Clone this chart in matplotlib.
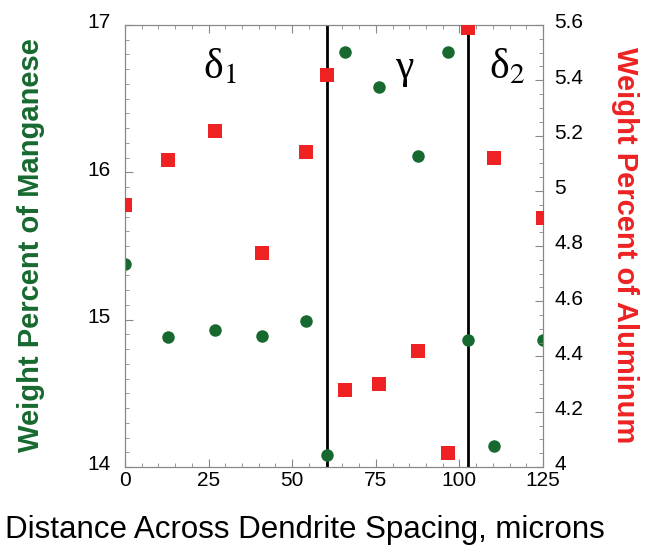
import numpy as np
import matplotlib.pyplot as plt
from matplotlib.ticker import MultipleLocator, FuncFormatter
from matplotlib.transforms import ScaledTranslation

# distancia ao longo do espaçamento dendrítico (microns)
distance = [0, 12.8, 26.9, 40.9, 54.1, 60.5, 65.8, 76.0, 87.7, 96.7, 102.7, 110.4, 124.9]
manganese = [15.38, 14.88, 14.93, 14.89, 14.99, 14.08, 16.82, 16.58, 16.11, 16.82, 14.86, 14.14, 14.86]
aluminum = [4.95, 5.11, 5.215, 4.775, 5.14, 5.42, 4.28, 4.30, 4.42, 4.05, 5.59, 5.12, 4.90]
boundaries = [60.5, 102.7]
phase_labels = ["δ", "γ", "δ"]
phase_subs = ["1", "", "2"]
phase_x = [28.5, 83.4, 114.3]

green = '#17692f'
red = '#ee2222'
spine_col = '#888888'

plt.rcParams['font.family'] = ['Liberation Sans', 'DejaVu Sans']
plt.rcParams['mathtext.fontset'] = 'stix'

fig = plt.figure(figsize=(6.46, 5.46), dpi=100)
ax = fig.add_axes([0.1935, 0.1447, 0.6471, 0.8095])
ax2 = ax.twinx()

ax.plot(distance, manganese, 'o', color=green, markersize=9, markeredgewidth=0, zorder=3)
ax2.plot(distance, aluminum, 's', color=red, markersize=9.5, markeredgewidth=0, zorder=3)
for b in boundaries:
    ax.axvline(b, color='black', linewidth=2, zorder=2)

ax.set_xlim(0, 125)
ax.set_ylim(14, 17)
ax2.set_ylim(4, 5.6)

ax.xaxis.set_major_locator(MultipleLocator(25))
ax.xaxis.set_minor_locator(MultipleLocator(5))
ax.yaxis.set_major_locator(MultipleLocator(1))
ax.yaxis.set_minor_locator(MultipleLocator(0.1))
ax2.yaxis.set_major_locator(MultipleLocator(0.2))
ax2.yaxis.set_minor_locator(MultipleLocator(0.05))
ax2.yaxis.set_major_formatter(FuncFormatter(lambda v, p: f"{round(v, 1):g}"))

for a in (ax, ax2):
    for s in a.spines.values():
        s.set_color(spine_col)
        s.set_linewidth(0.8)
ax.tick_params(which='both', direction='in', top=True, right=False, colors=spine_col,
               labelcolor='black', labelsize=15)
ax.tick_params(axis='y', pad=10)
ax.tick_params(axis='x', pad=3)
ax.tick_params(which='major', length=6)
ax.tick_params(which='minor', length=3)
ax2.tick_params(which='both', direction='in', colors=spine_col, labelcolor='black',
                labelsize=15, pad=8)
ax2.tick_params(which='major', length=6)
ax2.tick_params(which='minor', length=3)

# rótulos dos eixos y levemente acima dos ticks, como no original
up = ScaledTranslation(0, 3 / 72, fig.dpi_scale_trans)
for lab in ax.get_yticklabels() + ax2.get_yticklabels():
    lab.set_transform(lab.get_transform() + up)

fig.text(0.472, 0.03, "Distance Across Dendrite Spacing, microns", fontsize=22.5,
         ha='center', va='center')
fig.text(31 / 646, 1 - 245 / 546, "Weight Percent of Manganese", fontsize=21, fontweight='bold',
         color=green, rotation=90, ha='center', va='center')
fig.text(625 / 646, 1 - 245 / 546, "Weight Percent of Aluminum", fontsize=21, fontweight='bold',
         color=red, rotation=270, ha='center', va='center')

for x, lab, sub in zip(phase_x, phase_labels, phase_subs):
    txt = lab if not sub else lab + r"$_{\mathrm{" + sub + "}}$"
    ax.text(x, 16.71, txt, fontsize=30, family='Liberation Serif', ha='center', va='center')

fig.savefig('out.png', dpi=100)
